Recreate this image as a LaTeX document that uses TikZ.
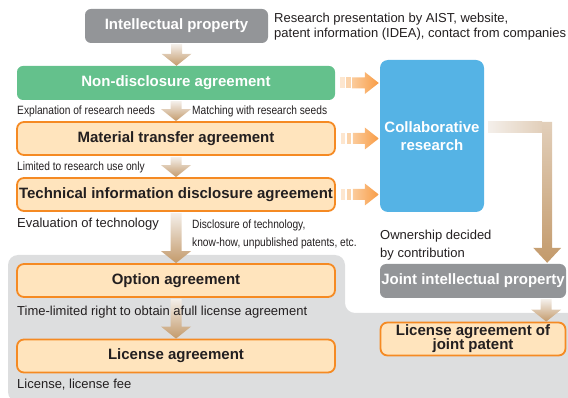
\documentclass[tikz,border=0pt]{standalone}
\usepackage{fontspec}
\setmainfont{Liberation Sans}
\newfontfamily\condensed[FakeStretch=0.85]{Liberation Sans}
\usetikzlibrary{calc}
\definecolor{boxgray}{HTML}{939598}
\definecolor{areagray}{HTML}{DDDEDF}
\definecolor{ndagreen}{HTML}{64C18C}
\definecolor{collabblue}{HTML}{55B3E5}
\definecolor{fillorange}{HTML}{FFE4BD}
\definecolor{edgeorange}{HTML}{F58A23}
\definecolor{textdark}{HTML}{231F20}
\definecolor{arrowlight}{HTML}{F4EFEA}
\definecolor{arrowmid}{HTML}{E2CFBA}
\definecolor{arrowbrown}{HTML}{C39A6B}
\definecolor{orangeA}{HTML}{FDE6CF}
\definecolor{orangeB}{HTML}{FBD4AC}
\definecolor{orangeC}{HTML}{FBCB9B}
\definecolor{orangeD}{HTML}{F89C45}
\newcommand{\boxfont}{\fontsize{15}{18}\selectfont\bfseries}
\newcommand{\notefont}{\fontsize{13}{15}\selectfont}
\newcommand{\smallfont}{\condensed\fontsize{12}{18}\selectfont}
\newcommand{\fatarrow}[2]{%
  \shade [top color=arrowlight, bottom color=arrowbrown] let \p1=(#1), \p2=(#2) in
    (\x1-5.5pt,\y1-1pt) -- (\x1+5.5pt,\y1-1pt) -- (\x1+5.5pt,\y2+12pt) -- (\x1+15pt,\y2+12pt)
    -- (\x1,\y2) -- (\x1-15pt,\y2+12pt) -- (\x1-5.5pt,\y2+12pt) -- cycle;}
\newcommand{\orangearrow}[2]{%
  \fill [orangeA] ([xshift=5pt,yshift=-5.5pt]#1) rectangle ([xshift=9.5pt,yshift=5.5pt]#1);
  \fill [orangeB] ([xshift=11pt,yshift=-5.5pt]#1) rectangle ([xshift=15.5pt,yshift=5.5pt]#1);
  \shade [left color=orangeC, right color=orangeD] let \p1=(#1), \p2=(#2) in
    (\x1+17pt,\y1+5.5pt) -- (\x2-15pt,\y1+5.5pt) -- (\x2-15pt,\y1+11pt) -- (\x2-1pt,\y1)
    -- (\x2-15pt,\y1-11pt) -- (\x2-15pt,\y1-5.5pt) -- (\x1+17pt,\y1-5.5pt) -- cycle;}
\newcommand{\elbowarrow}[2]{%
  \shade [left color=arrowlight, right color=arrowmid] let \p1=(#1), \p2=(#2) in
    (\x1+4pt,\y1+14pt) -- (\x2-5pt,\y1+14pt) -- (\x2-5pt,\y1+3pt) -- (\x1+4pt,\y1+3pt) -- cycle;
  \shade [top color=arrowmid, bottom color=arrowbrown] let \p1=(#1), \p2=(#2) in
    (\x2-5pt,\y1+14pt) -- (\x2+5pt,\y1+14pt) -- (\x2+5pt,\y2+16pt) -- (\x2+14pt,\y2+16pt)
    -- (\x2,\y2+1pt) -- (\x2-14pt,\y2+16pt) -- (\x2-5pt,\y2+16pt) -- cycle;}
\begin{document}
\begin{tikzpicture}[x=1pt,y=-1pt]
        \tikzstyle{every node}+=[inner sep=0pt]
        \tikzstyle{graybox}=[rounded corners=6pt, fill=boxgray, text=white, font=\boxfont, minimum height=34pt]
        \tikzstyle{greenbox}=[rounded corners=6pt, fill=ndagreen, text=white, font=\boxfont, minimum height=34pt]
        \tikzstyle{bluebox}=[rounded corners=8pt, fill=collabblue, text=white, font=\boxfont]
        \tikzstyle{orangebox}=[rounded corners=7pt, draw=edgeorange, line width=1.8pt, fill=fillorange, text=textdark, font=\boxfont, minimum height=33pt]
        \tikzstyle{note}=[anchor=west, text=textdark, font=\notefont]
        \tikzstyle{smallnote}=[anchor=west, text=textdark, font=\smallfont]
        \useasboundingbox (0,0) rectangle (568,398);
        \fill [areagray, rounded corners=10pt] (8,402) -- (8,255) -- (345,255) -- (345,313) -- (580,313) -- (580,402) -- cycle;
        \node [graybox, minimum width=183pt] (ip) at (176.5,26) {Intellectual property};
        \node [greenbox, minimum width=318pt] (nda) at (176,83) {Non-disclosure agreement};
        \node [orangebox, minimum width=318pt] (mta) at (176,138.5) {Material transfer agreement};
        \node [orangebox, minimum width=318pt] (tida) at (176,194.5) {Technical information disclosure agreement};
        \node [orangebox, minimum width=318pt] (opt) at (176,280.5) {Option agreement};
        \node [orangebox, minimum width=318pt] (lic) at (176,356) {License agreement};
        \node [bluebox, minimum width=104pt, minimum height=152pt, align=center] (collab) at (432,136) {Collaborative\\research};
        \node [graybox, minimum width=186pt] (jip) at (473,281) {Joint intellectual property};
        \node [orangebox, minimum width=185pt, align=center] (lj) at (473,339) {License agreement of\\[-4pt]joint patent};
        \fatarrow{ip.south}{nda.north}
        \fatarrow{nda.south}{mta.north}
        \fatarrow{mta.south}{tida.north}
        \fatarrow{tida.south}{opt.north}
        \fatarrow{opt.south}{lic.north}
        \fatarrow{[xshift=-20pt]jip.south east}{[xshift=-20pt]lj.north east}
        \orangearrow{nda.east}{collab.west}
        \orangearrow{mta.east}{collab.west}
        \orangearrow{tida.east}{collab.west}
        \elbowarrow{collab.east}{[xshift=-19pt]jip.north east}
        \node [note, align=left] (source) at (274,26.5) {Research presentation by AIST, website,\\patent information (IDEA), contact from companies};
        \node [smallnote] (needs) at (17,111) {Explanation of research needs};
        \node [smallnote] (seeds) at (192,111) {Matching with research seeds};
        \node [smallnote] (useonly) at (17,167) {Limited to research use only};
        \node [note] (evaluation) at (17,224) {Evaluation of technology};
        \node [smallnote, align=left] (disclosure) at (192,234) {Disclosure of technology,\\know-how, unpublished patents, etc.};
        \node [note] (timelimit) at (17,312) {Time-limited right to obtain afull license agreement};
        \node [note] (fee) at (17,385) {License, license fee};
        \node [note, align=left] (ownership) at (380,245) {Ownership decided\\[3pt]by contribution};
\end{tikzpicture}
\end{document}
